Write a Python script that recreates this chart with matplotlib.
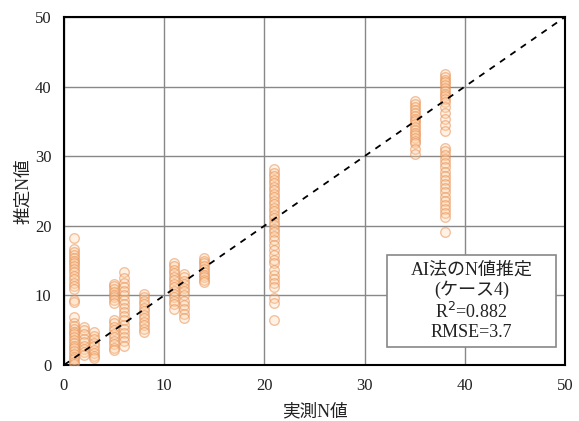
import matplotlib.pyplot as plt
from matplotlib.patches import Rectangle
import numpy as np

plt.rcParams['font.family'] = ['Liberation Serif', 'Noto Sans CJK JP']

# measured N value -> estimated N values
est = {
    1: [18.2, 16.7, 16.2, 15.8, 15.4, 15.0, 14.6, 14.2, 13.8, 13.3, 12.8, 12.3, 11.8, 11.3, 10.9,
        9.3, 9.0, 6.9, 6.0, 5.6, 5.2, 4.8, 4.4, 4.0, 3.6, 3.2, 2.8, 2.4, 2.0, 1.6, 1.2, 0.8, 0.4, 0.1],
    2: [5.4, 5.0, 4.4, 3.8, 3.3, 2.8, 2.3, 1.8, 1.4],
    3: [4.7, 4.2, 3.7, 3.2, 2.7, 2.2, 1.7, 1.3, 1.0],
    5: [11.7, 11.3, 10.9, 10.5, 10.1, 9.7, 9.3, 8.9,
        6.5, 6.0, 5.5, 5.0, 4.5, 4.0, 3.5, 3.0, 2.5, 2.2],
    6: [13.4, 12.5, 11.8, 11.2, 10.6, 10.0, 9.4, 8.8, 8.2, 7.6, 7.0, 6.4, 5.8, 5.2, 4.6, 4.0,
        3.4, 2.7],
    8: [10.2, 9.7, 9.2, 8.7, 8.2, 7.7, 7.2, 6.7, 6.2, 5.7, 5.2, 4.7],
    11: [14.7, 14.2, 13.7, 13.2, 12.7, 12.2, 11.7, 11.2, 10.7, 10.2, 9.7, 9.2, 8.7, 8.0],
    12: [13.1, 12.6, 12.1, 11.6, 11.1, 10.6, 10.1, 9.2, 8.6, 8.0, 7.3, 6.7],
    14: [15.4, 15.0, 14.6, 14.2, 13.8, 13.4, 13.0, 12.6, 12.2, 11.9],
    21: [28.1, 27.6, 27.1, 26.6, 26.1, 25.6, 25.1, 24.6, 24.1, 23.6, 23.1, 22.6, 22.1, 21.6,
         21.1, 20.6, 20.1, 19.6, 19.1, 18.5, 17.9, 17.2, 16.5, 15.8, 15.1, 14.7,
         13.6, 13.0, 12.4, 11.8, 11.2, 9.6, 8.9, 6.5],
    35: [38.0, 37.5, 37.0, 36.6, 36.2, 35.8, 35.4, 35.0, 34.6, 34.2, 33.8, 33.4, 33.0, 32.6,
         32.2, 31.9, 31.1, 30.3],
    38: [41.8, 41.4, 41.0, 40.6, 40.2, 39.8, 39.4, 39.0, 38.6, 38.2, 37.8, 37.0, 36.2, 35.4,
         34.5, 33.6, 31.2, 30.7, 30.2, 29.6, 29.0, 28.4, 27.8, 27.2, 26.6, 26.0, 25.4, 24.8,
         24.2, 23.6, 23.0, 22.4, 21.8, 21.3, 19.1],
}

x_pts = []
y_pts = []
for k, vals in est.items():
    x_pts += [k] * len(vals)
    y_pts += vals

fig = plt.figure(figsize=(5.79, 4.21), dpi=100)
ax = fig.add_axes([0.1105, 0.133, 0.8653, 0.8266])

ax.grid(True, color='#888888', linewidth=1.0)
ax.set_axisbelow(True)

ax.scatter(x_pts, y_pts, s=48, facecolor=(1.0, 0.82, 0.65, 0.3),
           edgecolor=(0.9, 0.55, 0.3, 0.5), linewidth=1.0, zorder=3)

ax.plot([0, 50], [0, 50], color='black', linestyle=(0, (3.5, 3.5)), linewidth=1.3, zorder=4)

ax.set_xlim(0, 50)
ax.set_ylim(0, 50)
ax.set_xticks(np.arange(0, 51, 10))
ax.set_yticks(np.arange(0, 51, 10))
ax.tick_params(length=0, labelsize=12, pad=9, colors='#222222')
for sp in ax.spines.values():
    sp.set_linewidth(1.5)
    sp.set_color('black')

ax.set_xlabel('実測N値', fontsize=12.7, color='#222222', labelpad=7)
ax.set_ylabel('推定N値', fontsize=12.7, color='#222222', labelpad=2)

# annotation box
ax.add_patch(Rectangle((32.2, 2.6), 16.9, 13.2, facecolor='white', edgecolor='#888888',
                       linewidth=1.2, zorder=6))
ax.text(40.65, 9.2, 'AI法のN値推定\n(ケース4)\nR$^2$=0.882\nRMSE=3.7',
        ha='center', va='center', fontsize=13, linespacing=1.15, color='#222222', zorder=7)

fig.savefig('out.png', dpi=100)
